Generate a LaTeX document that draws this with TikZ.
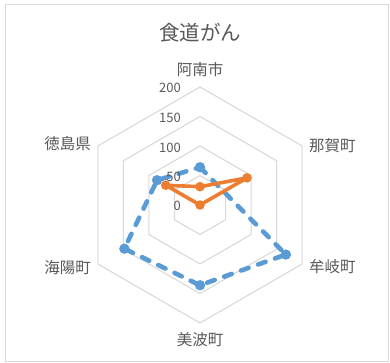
\documentclass[tikz,border=0pt]{standalone}
\usepackage{fontspec}
\setmainfont{Noto Sans CJK JP}
\definecolor{txt}{HTML}{595959}
\definecolor{gridc}{HTML}{D9D9D9}
\definecolor{sblue}{HTML}{5B9BD5}
\definecolor{sorange}{HTML}{ED7D31}
\begin{document}
\begin{tikzpicture}[x=1pt,y=-1pt,
  gridline/.style={draw=gridc, line width=1.1pt, line join=miter},
  blueline/.style={draw=sblue, line width=4.6pt, line cap=round, line join=round, dash pattern=on 8pt off 10pt},
  orangeline/.style={draw=sorange, line width=3.6pt, line cap=round, line join=round},
  bluemark/.style={fill=sblue},
  orangemark/.style={fill=sorange},
  axlabel/.style={text=txt, inner sep=0pt, font=\fontsize{15.5}{18}\selectfont},
  vallabel/.style={text=txt, inner sep=0pt, anchor=east, font=\fontsize{13}{15}\selectfont},
  ]
\useasboundingbox (0,0) rectangle (390,363);
\fill[white] (0,0) rectangle (390,363);
\draw[gridc, line width=1.2pt] (5.5,4.5) rectangle (388.5,361.5);
\coordinate (C) at (200,205);
\begin{scope}[shift={(200,205)}]
  \foreach \r in {29.5,59,88.5,118}{
    \draw[gridline] (-90:\r) -- (-30:\r) -- (30:\r) -- (90:\r) -- (150:\r) -- (210:\r) -- cycle;
  }
  % series 1 (blue)
  \coordinate (b1) at (-90:{64*0.59});
  \coordinate (b2) at (-30:{46*0.59});
  \coordinate (b3) at (30:{168*0.59});
  \coordinate (b4) at (90:{136*0.59});
  \coordinate (b5) at (150:{148*0.59});
  \coordinate (b6) at (210:{84*0.59});
  % series 2 (orange)
  \coordinate (o1) at (-90:{31*0.59});
  \coordinate (o2) at (-30:{92*0.59});
  \coordinate (o3) at (0,0);
  \coordinate (o6) at (210:{67*0.59});
\end{scope}
\draw[blueline] (b1) -- (b2) -- (b3) -- (b4) -- (b5) -- (b6) -- cycle;
\foreach \p in {b1,b3,b4,b5,b6}{ \fill[bluemark] (\p) circle (5.2); }
\draw[orangeline] (o1) -- (o2) -- (o3) -- (o6) -- cycle;
\foreach \p in {o1,o2,o3,o6}{ \fill[orangemark] (\p) circle (4.8); }
% value labels
\node[vallabel] (v200) at (181,88) {200};
\node[vallabel] (v150) at (181,118) {150};
\node[vallabel] (v100) at (181,147.5) {100};
\node[vallabel] (v50) at (181,177) {50};
\node[vallabel] (v0) at (181,206) {0};
% title and axis labels
\node[text=txt, inner sep=0pt, font=\fontsize{20.5}{24}\selectfont] (title) at (200,33) {食道がん};
\node[axlabel] (l1) at (200,70) {阿南市};
\node[axlabel, anchor=west] (l2) at (309,146) {那賀町};
\node[axlabel, anchor=west] (l3) at (309,267) {牟岐町};
\node[axlabel] (l4) at (200,340) {美波町};
\node[axlabel, anchor=east] (l5) at (91,268) {海陽町};
\node[axlabel, anchor=east] (l6) at (91,144) {徳島県};
\end{tikzpicture}
\end{document}
